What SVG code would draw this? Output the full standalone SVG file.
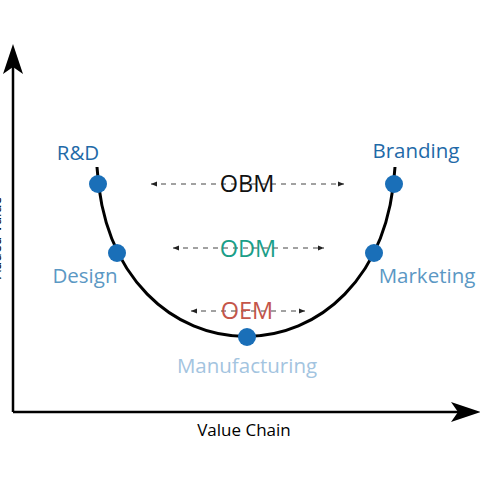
<svg xmlns="http://www.w3.org/2000/svg" width="480" height="480" viewBox="0 0 480 480">
<defs>
<style>
text{font-family:"Open Sans","Noto Sans","DejaVu Sans",sans-serif;text-anchor:middle}
.axis{stroke:#000;stroke-width:2.5;fill:none}
.dash{stroke:#444;stroke-width:1;stroke-dasharray:5,5;fill:none;marker-start:url(#sa);marker-end:url(#ea)}
.dot{fill:#1a6fb8}
.lbl{font-size:20.5px}
.mode{font-size:23.5px}
</style>
<marker id="ea" markerWidth="8" markerHeight="8" refX="6" refY="4" orient="auto" markerUnits="userSpaceOnUse"><path d="M0,1.5 L6,4 L0,6.5 Z" fill="#222"/></marker>
<marker id="sa" markerWidth="8" markerHeight="8" refX="0" refY="4" orient="auto" markerUnits="userSpaceOnUse"><path d="M6,1.5 L0,4 L6,6.5 Z" fill="#222"/></marker>
</defs>
<g id="connectors">
<path class="axis" d="M13,412 V58"/>
<path d="M13,44 L3,74 L13,67 L23,74 Z" fill="#000"/>
<path class="axis" d="M13,412 H468"/>
<path d="M481,412 L451,402 L458,412 L451,422 Z" fill="#000"/>
<path d="M97,167 C110,393 382,393 395,167" stroke="#000" stroke-width="3" fill="none"/>
<path class="dash" d="M151,184 H344"/>
<path class="dash" d="M173,248 H324"/>
<path class="dash" d="M191,311 H305"/>
</g>
<g id="ylabel"><text transform="translate(1,238) rotate(-90)" style="font-size:14px">Added Value</text></g>
<g id="xlabel"><text x="244" y="436" style="font-size:17px">Value Chain</text></g>
<g id="rd"><circle class="dot" cx="98" cy="184" r="9"/><text class="lbl" x="78" y="160" fill="#1f6aa8">R&amp;D</text></g>
<g id="design"><circle class="dot" cx="117" cy="253" r="9"/><text class="lbl" x="85" y="283" fill="#5b98c4">Design</text></g>
<g id="manufacturing"><circle class="dot" cx="247" cy="337" r="9"/><text class="lbl" x="247" y="373" fill="#a3c4e0">Manufacturing</text></g>
<g id="marketing"><circle class="dot" cx="374" cy="253" r="9"/><text class="lbl" x="427" y="283" fill="#5b98c4">Marketing</text></g>
<g id="branding"><circle class="dot" cx="394" cy="184" r="9"/><text class="lbl" x="416" y="158" fill="#1f6aa8">Branding</text></g>
<g id="obm"><text class="mode" x="247" y="192" fill="#111">OBM</text></g>
<g id="odm"><text class="mode" x="248" y="257" fill="#1a9e88">ODM</text></g>
<g id="oem"><text class="mode" x="247" y="319" fill="#c4554a">OEM</text></g>
</svg>
